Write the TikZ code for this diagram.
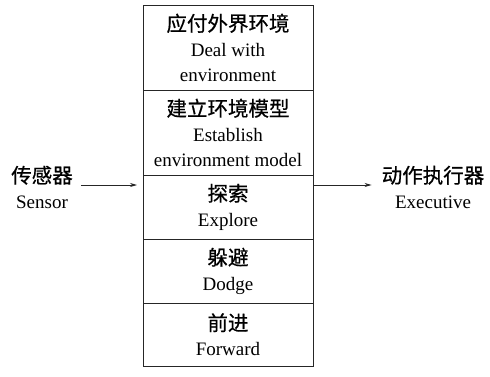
\documentclass[tikz,border=0pt]{standalone}
\usepackage{fontspec}
\setmainfont{Liberation Serif}
\newfontfamily\cjk[FakeBold=0.6]{Noto Sans CJK SC}
\usetikzlibrary{arrows.meta,positioning}
\newcommand{\zh}[1]{{\cjk\fontsize{20.5}{25}\selectfont #1}}

\begin{document}
\begin{tikzpicture}
[x=1pt,y=1pt,node distance=0pt,>={Stealth[length=7pt,width=4pt]},
layer/.style={draw=black!85,line width=0.8pt,minimum width=170pt,outer sep=0pt,
  inner sep=0pt,align=center,font=\fontsize{19}{25}\selectfont},
tall/.style={layer,minimum height=85pt},
short/.style={layer,minimum height=64pt},
side/.style={align=center,inner sep=0pt,font=\fontsize{19}{25}\selectfont},
arrow/.style={->,line width=0.7pt,black!85}
]
\useasboundingbox (0,0) rectangle (490,376);
%% layers
\node[tall,anchor=north] (deal) at (228,371)
{\zh{应付外界环境}\\Deal with\\environment};
\node[tall,below=of deal] (build)
{\zh{建立环境模型}\\Establish\\environment model};
\node[short,below=of build] (explore) {\zh{探索}\\Explore};
\node[short,below=of explore] (dodge) {\zh{躲避}\\Dodge};
\node[short,below=of dodge,minimum height=63pt] (forward) {\zh{前进}\\Forward};
%% input and output
\node[side] (sensor) at (42,189) {\zh{传感器}\\Sensor};
\node[side] (executive) at (433,189) {\zh{动作执行器}\\Executive};
%% arrows
\draw[arrow,shorten <=8pt,shorten >=6pt] (sensor.east |- 0,191) -- (explore.west |- 0,191);
\draw[arrow,shorten >=10pt] (explore.east |- 0,191) -- (executive.west |- 0,191);
\end{tikzpicture}
\end{document}
